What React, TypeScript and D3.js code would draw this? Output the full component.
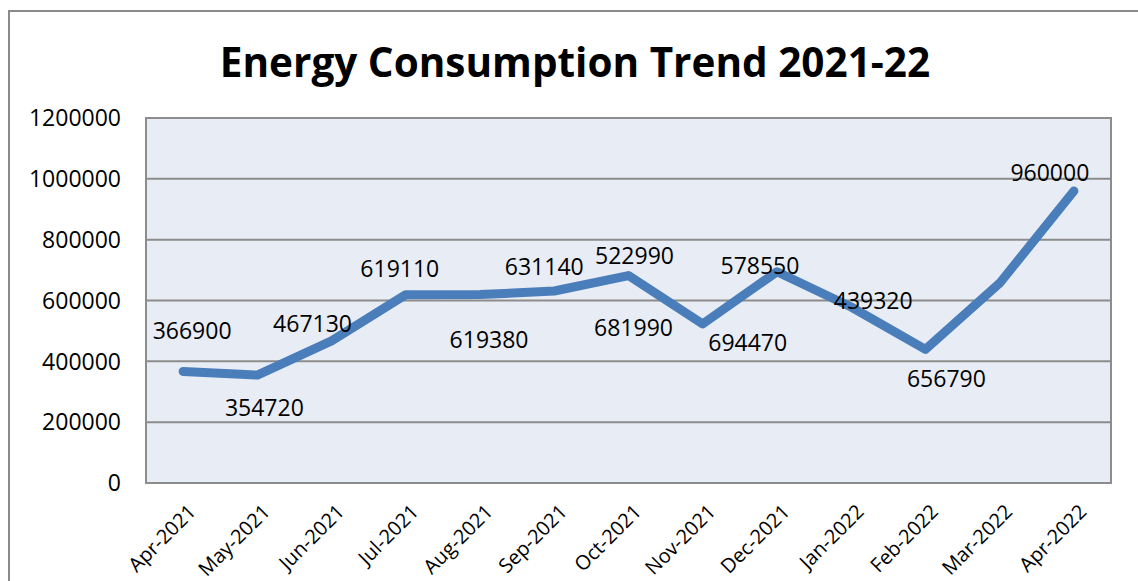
import * as d3 from 'd3'

const months = [
  'Apr-2021', 'May-2021', 'Jun-2021', 'Jul-2021', 'Aug-2021', 'Sep-2021', 'Oct-2021',
  'Nov-2021', 'Dec-2021', 'Jan-2022', 'Feb-2022', 'Mar-2022', 'Apr-2022',
]
const consumption = [
  366900, 354720, 467130, 619110, 619380, 631140, 681990,
  522990, 694470, 578550, 439320, 656790, 960000,
]
const yTicks = [0, 200000, 400000, 600000, 800000, 1000000, 1200000]

// data labels as they sit in the source (text shuffled, dragged by hand)
const labelText = [
  '366900', '354720', '467130', '619110', '619380', '631140', '522990',
  '681990', '694470', '578550', '439320', '656790', '960000',
]
const labelPoint = [0, 1, 2, 3, 4, 5, 6, 6, 7, 8, 9, 10, 12]

// px nudges of each label from its point
const labelNudge: [number, number][] = [
  [9, -41], [7, 33], [-19, -17], [-6, -26], [9, 45], [-10, -24], [6, -20],
  [5, 52], [45, 19], [-17, -6], [22, -6], [21, 29], [-24, -18],
]

const W = 1138
const H = 581
const plot = { left: 146, top: 118, right: 1111, bottom: 483 }
const font = '"Open Sans", "Liberation Sans", sans-serif'

export default function App() {
  const x = d3.scaleBand<string>().domain(months).range([plot.left, plot.right])
  const y = d3.scaleLinear().domain([0, 1200000]).range([plot.bottom, plot.top])
  const cx = (m: string) => (x(m) as number) + x.bandwidth() / 2

  const line = d3.line<number>()
    .x((_, i) => cx(months[i]))
    .y(d => y(d))

  return (
    <div style={{ position: 'absolute', left: 0, top: 0 }}>
      <svg width={W} height={H} style={{ display: 'block', background: '#fff' }}>
        <rect x={9} y={11} width={W + 20} height={H + 20} fill="#fff" stroke="#8a8a8a" strokeWidth={2} />

        <text x={575} y={77} textAnchor="middle" fontFamily={font} fontWeight={700} fontSize={40.5} fill="#000">
          Energy Consumption Trend 2021-22
        </text>

        <rect x={plot.left} y={plot.top} width={plot.right - plot.left} height={plot.bottom - plot.top}
          fill="#e8ecf4" />

        {yTicks.map(t => (
          <g key={t}>
            <line x1={plot.left} x2={plot.right} y1={y(t)} y2={y(t)} stroke="#8c8c8c" strokeWidth={2} />
            <text x={121} y={y(t)} dy="0.36em" textAnchor="end" fontFamily={font} fontSize={23} fill="#000">
              {t}
            </text>
          </g>
        ))}

        <rect x={plot.left} y={plot.top} width={plot.right - plot.left} height={plot.bottom - plot.top}
          fill="none" stroke="#8c8c8c" strokeWidth={2} />

        {months.map(m => (
          <text key={m} transform={`translate(${cx(m) + 14},${513}) rotate(-45)`} textAnchor="end"
            fontFamily={font} fontSize={20} fill="#000">
            {m}
          </text>
        ))}

        <path d={line(consumption) ?? ''} fill="none" stroke="#4a7ebb" strokeWidth={9}
          strokeLinecap="round" strokeLinejoin="round" />

        {labelText.map((t, i) => {
          const p = labelPoint[i]
          return (
            <text key={i} x={cx(months[p]) + labelNudge[i][0]} y={y(consumption[p]) + labelNudge[i][1]}
              dy="0.36em" textAnchor="middle" fontFamily={font} fontSize={23} fill="#000">
              {t}
            </text>
          )
        })}
      </svg>
    </div>
  )
}
